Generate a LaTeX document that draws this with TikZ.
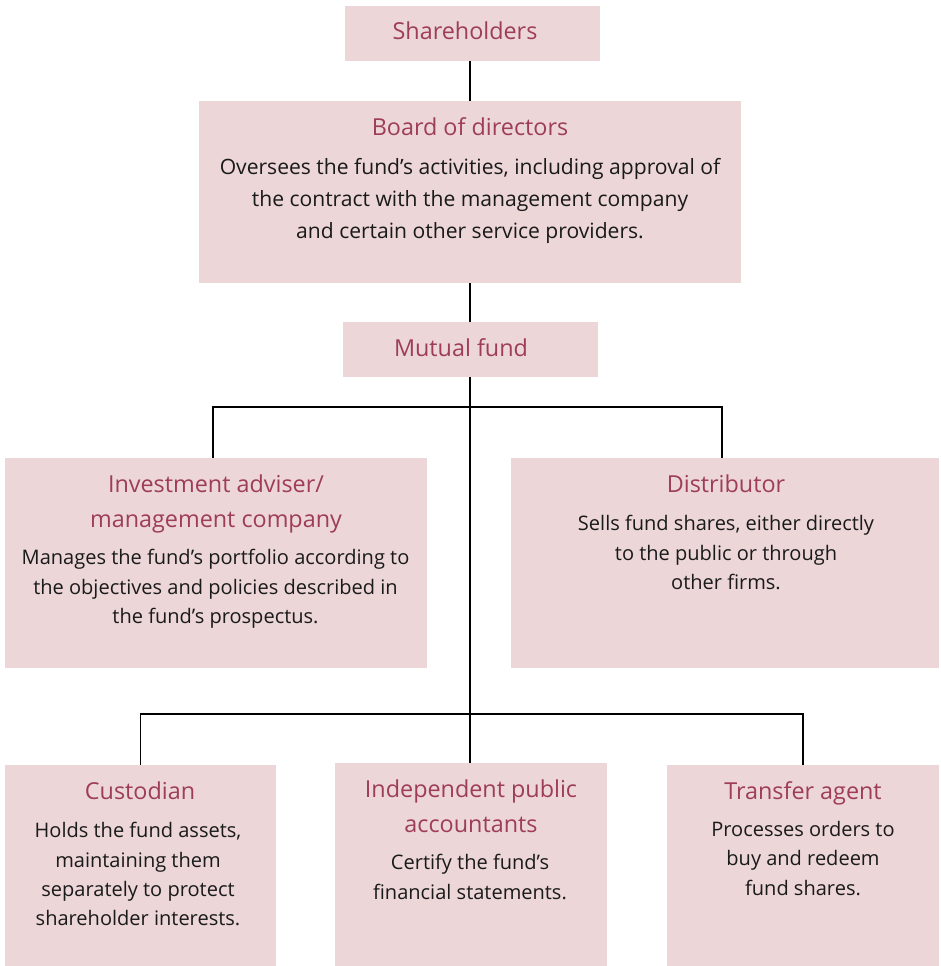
\documentclass[tikz,border=0pt]{standalone}
\usepackage{fontspec}
\setmainfont{Open Sans}
\definecolor{boxpink}{HTML}{ECD6D7}
\definecolor{headred}{HTML}{9E3D57}
\definecolor{bodyink}{HTML}{1A1A1A}
\tikzset{
  box/.style={fill=boxpink, inner sep=0pt},
  head/.style={anchor=north, inner sep=0pt, align=center, text=headred, font=\fontsize{13.3}{19.8}\selectfont},
  body/.style={anchor=north, inner sep=0pt, align=center, text=bodyink, font=\fontsize{11.4}{16.7}\selectfont},
  link/.style={line width=0.8pt}
}
\begin{document}
\begin{tikzpicture}[x=0.02cm, y=-0.02cm]
  \useasboundingbox (0,0) rectangle (940,966);

  % Drawing the boxes
  \node [box, minimum width=5.10cm, minimum height=1.10cm] (share) at (472.5,33.5) {};%
  \node [box, minimum width=10.84cm, minimum height=3.64cm] (board) at (470,192) {};%
  \node [box, minimum width=5.10cm, minimum height=1.10cm] (fund) at (470.5,349.5) {};%
  \node [box, minimum width=8.44cm, minimum height=4.20cm] (adviser) at (216,563) {};%
  \node [box, minimum width=8.56cm, minimum height=4.20cm] (distrib) at (725,563) {};%
  \node [box, minimum width=5.42cm, minimum height=4.02cm] (custod) at (140.5,865.5) {};%
  \node [box, minimum width=5.44cm, minimum height=4.06cm] (account) at (471,864.5) {};%
  \node [box, minimum width=5.44cm, minimum height=4.02cm] (transfer) at (803,865.5) {};%

  % Drawing the branch points
  \coordinate (split1) at (470,407);%
  \coordinate (split2) at (470,714);%
  \coordinate (advtop) at (213,458);%
  \coordinate (distop) at (722,458);%

  % Drawing the connectors
  \draw [link] (board.north |- share.south) -- (board.north);%
  \draw [link] (board.south) -- (board.south |- fund.north);%
  \draw [link] (split1 |- fund.south) -- (split1 |- account.north);%
  \draw [link] (advtop) |- (split1) -| (distop);%
  \draw [link] (custod.north) |- (split2) -| (transfer.north);%

  % Writing the texts
  \node [head] (sharet) at (465,21.5) {Shareholders};%
  \node [head] (boardt) at (470,117.5) {Board of directors};%
  \node [body, font=\fontsize{12.0}{18.1}\selectfont] (boardb) at (470,158.5)
    {Oversees the fund’s activities, including approval of\\the contract with the management company\\and certain other service providers.};%
  \node [head] (fundt) at (461,338.5) {Mutual fund};%
  \node [head] (advisert) at (216,474.5) {Investment adviser/\\management company};%
  \node [body] (adviserb) at (215.5,549)
    {Manages the fund’s portfolio according to\\the objectives and policies described in\\the fund’s prospectus.};%
  \node [head] (distribt) at (726,474.5) {Distributor};%
  \node [body] (distribb) at (726,515)
    {Sells fund shares, either directly\\to the public or through\\other firms.};%
  \node [head] (custodt) at (140,781.5) {Custodian};%
  \node [body] (custodb) at (138,822)
    {Holds the fund assets,\\maintaining them\\separately to protect\\shareholder interests.};%
  \node [head] (accountt) at (471,779.5) {Independent public\\accountants};%
  \node [body] (accountb) at (470,854)
    {Certify the fund’s\\financial statements.};%
  \node [head] (transfert) at (803,781.5) {Transfer agent};%
  \node [body] (transferb) at (803,821)
    {Processes orders to\\buy and redeem\\fund shares.};%
\end{tikzpicture}
\end{document}
